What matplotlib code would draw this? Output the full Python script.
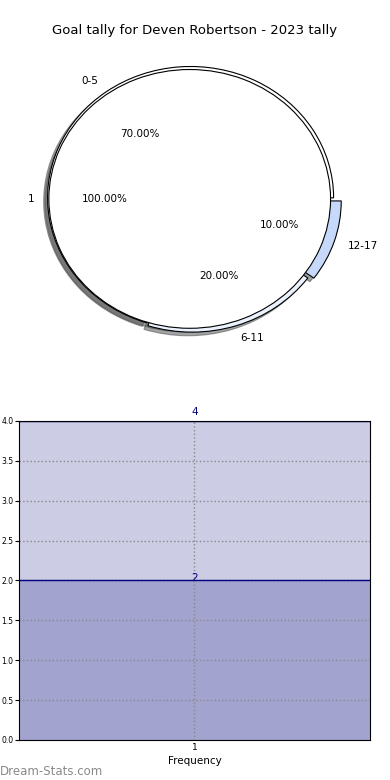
import matplotlib
matplotlib.use('Agg')
import matplotlib.pyplot as plt

# Pie data (outer ring: age groups, inner: frequency)
age_groups = ['0-5', '6-11', '12-17']
age_share = [70, 20, 10]
inner_labels = ['1']
inner_share = [100]

# Bottom chart data
freq_ticks = [1]
freq_tick_labels = ['1']
freq_levels = [4, 2]

TITLE = 'Goal tally for Deven Robertson - 2023 tally'
NAVY = '#000080'

fig = plt.figure(figsize=(3.9, 7.8), dpi=100)

# ─── Pie ────────────────────────────────────────────────────────────────────
ax_pie = fig.add_axes([0.0325, 0.5345, 0.9167, 0.421])
wedge_kw = dict(edgecolor='black', linewidth=0.8)
ax_pie.pie(age_share, labels=age_groups, colors=['white', '#ebf1fd', '#c6d9fb'],
           explode=[0.01, 0.015, 0.05], autopct='%.2f%%', shadow=True,
           startangle=0, radius=1.0, wedgeprops=wedge_kw,
           textprops=dict(fontsize=7.5))
ax_pie.pie(inner_share, labels=inner_labels, colors=['white'],
           explode=[0.012], autopct='%.2f%%', shadow=True,
           startangle=0, radius=0.985, wedgeprops=wedge_kw,
           textprops=dict(fontsize=7.5))
ax_pie.set_aspect('auto')
ax_pie.set_xlim(-1.25, 1.25)
ax_pie.set_ylim(-1.25, 1.25)
ax_pie.axis('off')

fig.text(0.5, 0.9615, TITLE, ha='center', va='center', fontsize=9.5)

# ─── Frequency chart ────────────────────────────────────────────────────────
ax = fig.add_axes([0.0487, 0.0513, 0.9, 0.409])
label_offsets = [3, -2]
for level, dy in zip(freq_levels, label_offsets):
    ax.bar(freq_ticks, [level], width=1.0, color=NAVY, alpha=0.2, linewidth=0)
    ax.axhline(level, color=NAVY, linewidth=1.0)
    ax.annotate(str(level), xy=(freq_ticks[0], level), xytext=(0, dy),
                textcoords='offset points', ha='center', va='bottom',
                color=NAVY, fontsize=7.5, annotation_clip=False)

ax.set_xlim(0.5, 1.5)
ax.set_ylim(0, 4)
ax.set_yticks([0, 0.5, 1.0, 1.5, 2.0, 2.5, 3.0, 3.5, 4.0])
ax.set_xticks(freq_ticks)
ax.set_xticklabels(freq_tick_labels)
ax.tick_params(axis='y', labelsize=5.5, length=3, pad=1)
ax.tick_params(axis='x', labelsize=6.5, length=0, pad=2)
ax.set_xlabel('Frequency', fontsize=7.5, labelpad=3)
ax.grid(True, linestyle=':', color='#888888', linewidth=1.0)

fig.text(0.0, 0.003, 'Dream-Stats.com', ha='left', va='bottom',
         fontsize=8.5, color='#8a8a8a')

fig.savefig('out.png', dpi=100)
